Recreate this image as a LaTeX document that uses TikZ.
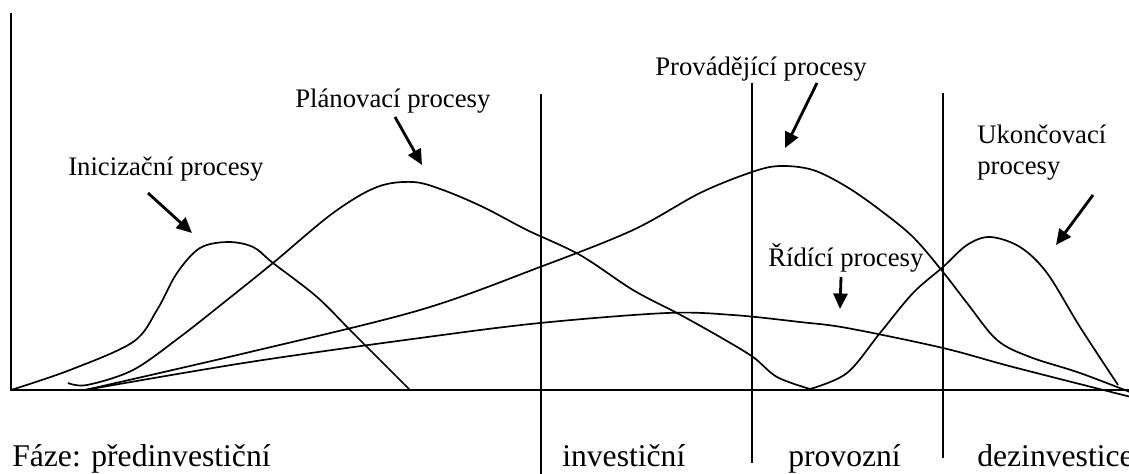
\documentclass[tikz,border=0pt]{standalone}
\usepackage{fontspec}
\setmainfont{Liberation Serif}
\usetikzlibrary{arrows.meta}
\tikzset{
  proc/.style={inner sep=0pt,anchor=base west,font=\fontsize{19}{21}\selectfont},
  phase/.style={inner sep=0pt,anchor=base west,font=\fontsize{22.5}{25}\selectfont},
  curve/.style={line width=1.2pt,smooth,tension=0.55},
  pointer/.style={line width=2pt,-{Triangle[length=11pt,width=10pt]}},
  divider/.style={line width=0.9pt}
}
\begin{document}
\begin{tikzpicture}[x=0.025cm,y=-0.025cm]
\useasboundingbox (0,0) rectangle (1129,473);
% axes
\coordinate (O) at (11,390);
\coordinate (ytop) at (11,13);
\coordinate (xend) at (1135,390);
\draw[line width=1.4pt] (ytop) -- (O) -- (xend);
% phase borders
\coordinate (d1t) at (541,94);  \coordinate (d1b) at (541,475);
\coordinate (d2t) at (752,83);  \coordinate (d2b) at (752,463);
\coordinate (d3t) at (943,93);  \coordinate (d3b) at (943,458);
\draw[divider] (d1t) -- (d1b);
\draw[divider] (d2t) -- (d2b);
\draw[divider] (d3t) -- (d3b);
% curves
\draw[curve] plot coordinates {(11,390) (70,370) (133,342) (157,310) (177,273)
  (200,248) (228,242) (253,247) (273,263) (317,297) (353,333) (409,389)};
\draw[curve] plot coordinates {(68,383) (87,385) (133,370) (180,337) (227,300)
  (273,263) (333,213) (377,187) (413,182) (443,190) (483,207) (527,230)
  (580,255) (633,290) (677,313) (720,337) (753,357) (777,377) (810,389)};
\draw[curve] plot coordinates {(810,389) (847,373) (880,333) (913,293)
  (943,267) (967,245) (990,237) (1020,247) (1047,273) (1080,327) (1118,385)};
\draw[curve] plot coordinates {(85,390) (250,352) (420,310) (540,267) (633,230)
  (700,193) (752,172) (780,166) (813,170) (847,187) (880,210) (913,237)
  (943,272) (967,303) (997,340) (1030,357) (1080,373) (1135,394)};
\draw[curve] plot coordinates {(85,390) (250,362) (420,338) (540,323) (667,313)
  (733,315) (800,322) (847,328) (943,348) (1013,367) (1135,398)};
% labels
\node[proc] (init) at (68,175) {Inicizační procesy};
\node[proc] (plan) at (295,107) {Plánovací procesy};
\node[proc] (exec) at (655,76) {Provádějící procesy};
\node[proc] (ctrl) at (768,266) {Řídící procesy};
\node[proc,align=left,font=\fontsize{19}{21.5}\selectfont] (close) at (977,174) {Ukončovací\\procesy};
% arrows
\coordinate (initA) at (148,193); \coordinate (initB) at (192,233);
\coordinate (planA) at (395,117); \coordinate (planB) at (422,165);
\coordinate (execA) at (817,83);  \coordinate (execB) at (785,148);
\coordinate (ctrlA) at (841,277); \coordinate (ctrlB) at (840,309);
\coordinate (closeA) at (1093,195); \coordinate (closeB) at (1056,245);
\draw[pointer] (initA) -- (initB);
\draw[pointer] (planA) -- (planB);
\draw[pointer] (execA) -- (execB);
\draw[pointer] (ctrlA) -- (ctrlB);
\draw[pointer] (closeA) -- (closeB);
%
\node[phase] (pre) at (12,466) {Fáze: předinvestiční};
\node[phase] (inv) at (562,466) {investiční};
\node[phase] (prov) at (788,466) {provozní};
\node[phase] (dez) at (977,466) {dezinvestice};
\end{tikzpicture}
\end{document}
